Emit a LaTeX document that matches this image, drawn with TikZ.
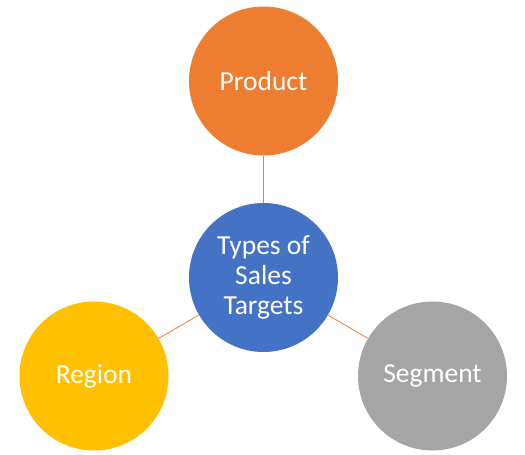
\documentclass[tikz,border=0pt]{standalone}
\usepackage{fontspec}
\setmainfont{Carlito}
\usetikzlibrary{arrows.meta}

\definecolor{prodorange}{HTML}{ED7D31}
\definecolor{hubblue}{HTML}{4472C4}
\definecolor{regiongold}{HTML}{FFC000}
\definecolor{seggray}{HTML}{A5A5A5}

\begin{document}
\begin{tikzpicture}[x=1pt,y=1pt,
    bubble/.style={circle, minimum size=149pt, inner sep=0pt, text=white,
      font=\fontsize{27.5}{30}\selectfont, align=center},
    link/.style={draw=prodorange, line width=0.8pt}]
  \useasboundingbox (0,0) rectangle (525,-455);

  \node[bubble, fill=hubblue] (hub) at (263.5,-277.5) {Types of\\Sales\\Targets};
  \node[bubble, fill=prodorange] (product) at (263.5,-81) {Product};
  \node[bubble, fill=regiongold] (region) at (94,-376) {Region};
  \node[bubble, fill=seggray] (segment) at (432.5,-376) {Segment};

  \draw[link] (product) -- (hub);
  \draw[link] (hub) -- (region);
  \draw[link] (hub) -- (segment);
\end{tikzpicture}
\end{document}
